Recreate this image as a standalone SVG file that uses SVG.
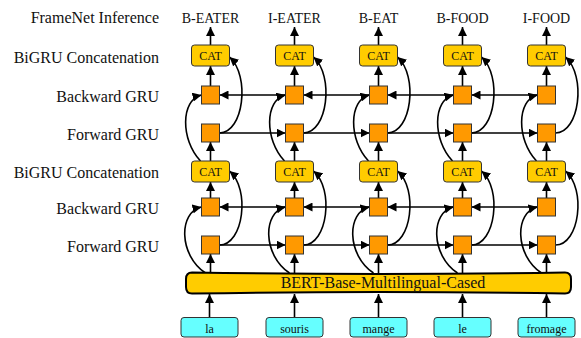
<svg xmlns="http://www.w3.org/2000/svg" width="581" height="338" viewBox="0 0 581 338">
<style>
text{font-family:"Liberation Serif","Times New Roman",serif;fill:#111}
.lbl{font-size:16px;text-anchor:end}
.out{font-size:14px;text-anchor:middle}
.cat rect{fill:#FFCC00;stroke:#333;stroke-width:1}
.cat text{font-family:"Liberation Serif","Times New Roman",serif;font-size:12px;text-anchor:middle}
.sq{fill:#FF9900;stroke:#333;stroke-width:1}
.tok rect{fill:#66FFFF;stroke:#333;stroke-width:1}
.tok text{font-family:"Liberation Serif","Times New Roman",serif;font-size:12px;text-anchor:middle}
#connectors path{fill:none;stroke:#000;stroke-width:1.6;marker-end:url(#ah)}
</style>
<defs>
<marker id="ah" viewBox="0 0 10 10" refX="10" refY="5" markerUnits="userSpaceOnUse" markerWidth="9" markerHeight="9" orient="auto">
<path d="M0,0 L10,5 L0,10 z" fill="#000"/>
</marker>
</defs>
<g id="row-labels">
<text class="lbl" x="159" y="22.5">FrameNet Inference</text>
<text class="lbl" x="159" y="62.5">BiGRU Concatenation</text>
<text class="lbl" x="159" y="101.5">Backward GRU</text>
<text class="lbl" x="159" y="139.5">Forward GRU</text>
<text class="lbl" x="159" y="178">BiGRU Concatenation</text>
<text class="lbl" x="159" y="214">Backward GRU</text>
<text class="lbl" x="159" y="252">Forward GRU</text>
</g>
<g id="connectors">
<path d="M210.5 45 V27"/><path d="M294.5 45 V27"/><path d="M378.5 45 V27"/><path d="M462.5 45 V27"/><path d="M546.5 45 V27"/>
<path d="M210.5 86 V66"/><path d="M294.5 86 V66"/><path d="M378.5 86 V66"/><path d="M462.5 86 V66"/><path d="M546.5 86 V66"/>
<path d="M210.5 161 V142"/><path d="M294.5 161 V142"/><path d="M378.5 161 V142"/><path d="M462.5 161 V142"/><path d="M546.5 161 V142"/>
<path d="M210.5 198 V182"/><path d="M294.5 198 V182"/><path d="M378.5 198 V182"/><path d="M462.5 198 V182"/><path d="M546.5 198 V182"/>
<path d="M210.5 273 V254"/><path d="M294.5 273 V254"/><path d="M378.5 273 V254"/><path d="M462.5 273 V254"/><path d="M546.5 273 V254"/>
<path d="M209.5 317 V294"/><path d="M294.5 317 V294"/><path d="M378.5 317 V294"/><path d="M462.5 317 V294"/><path d="M546.5 317 V294"/>
<path d="M285.5 95 H219.5"/><path d="M369.5 95 H303.5"/><path d="M453.5 95 H387.5"/><path d="M537.5 95 H471.5"/>
<path d="M219.5 133 H285.5"/><path d="M303.5 133 H369.5"/><path d="M387.5 133 H453.5"/><path d="M471.5 133 H537.5"/>
<path d="M285.5 207 H219.5"/><path d="M369.5 207 H303.5"/><path d="M453.5 207 H387.5"/><path d="M537.5 207 H471.5"/>
<path d="M219.5 245 H285.5"/><path d="M303.5 245 H369.5"/><path d="M387.5 245 H453.5"/><path d="M471.5 245 H537.5"/>
<path d="M200.5 161 C180.5 140 180.5 100 201.5 95"/>
<path d="M284.5 161 C264.5 140 264.5 100 285.5 95"/>
<path d="M368.5 161 C348.5 140 348.5 100 369.5 95"/>
<path d="M452.5 161 C432.5 140 432.5 100 453.5 95"/>
<path d="M536.5 161 C516.5 140 516.5 100 537.5 95"/>
<path d="M205.5 273 C178.5 255 178.5 212 201.5 207"/>
<path d="M289.5 273 C262.5 255 262.5 212 285.5 207"/>
<path d="M373.5 273 C346.5 255 346.5 212 369.5 207"/>
<path d="M457.5 273 C430.5 255 430.5 212 453.5 207"/>
<path d="M541.5 273 C514.5 255 514.5 212 537.5 207"/>
<path d="M219.5 133 C243.5 133 250.5 76 229.5 57"/>
<path d="M303.5 133 C327.5 133 334.5 76 313.5 57"/>
<path d="M387.5 133 C411.5 133 418.5 76 397.5 57"/>
<path d="M471.5 133 C495.5 133 502.5 76 481.5 57"/>
<path d="M555.5 133 C579.5 133 586.5 76 565.5 57"/>
<path d="M219.5 245 C243.5 245 250.5 189 229.5 171"/>
<path d="M303.5 245 C327.5 245 334.5 189 313.5 171"/>
<path d="M387.5 245 C411.5 245 418.5 189 397.5 171"/>
<path d="M471.5 245 C495.5 245 502.5 189 481.5 171"/>
<path d="M555.5 245 C579.5 245 586.5 189 565.5 171"/>
</g>
<g id="out-1"><text class="out" x="210.5" y="23">B-EATER</text></g>
<g id="out-2"><text class="out" x="294.5" y="23">I-EATER</text></g>
<g id="out-3"><text class="out" x="378.5" y="23">B-EAT</text></g>
<g id="out-4"><text class="out" x="462.5" y="23">B-FOOD</text></g>
<g id="out-5"><text class="out" x="546.5" y="23">I-FOOD</text></g>
<g id="cat2-1" class="cat"><rect x="191.5" y="45" width="38" height="21" rx="3"/><text x="210.5" y="60">CAT</text></g>
<g id="cat2-2" class="cat"><rect x="275.5" y="45" width="38" height="21" rx="3"/><text x="294.5" y="60">CAT</text></g>
<g id="cat2-3" class="cat"><rect x="359.5" y="45" width="38" height="21" rx="3"/><text x="378.5" y="60">CAT</text></g>
<g id="cat2-4" class="cat"><rect x="443.5" y="45" width="38" height="21" rx="3"/><text x="462.5" y="60">CAT</text></g>
<g id="cat2-5" class="cat"><rect x="527.5" y="45" width="38" height="21" rx="3"/><text x="546.5" y="60">CAT</text></g>
<g id="bwd2-1"><rect class="sq" x="201.5" y="86" width="18" height="18"/></g>
<g id="bwd2-2"><rect class="sq" x="285.5" y="86" width="18" height="18"/></g>
<g id="bwd2-3"><rect class="sq" x="369.5" y="86" width="18" height="18"/></g>
<g id="bwd2-4"><rect class="sq" x="453.5" y="86" width="18" height="18"/></g>
<g id="bwd2-5"><rect class="sq" x="537.5" y="86" width="18" height="18"/></g>
<g id="fwd2-1"><rect class="sq" x="201.5" y="124" width="18" height="18"/></g>
<g id="fwd2-2"><rect class="sq" x="285.5" y="124" width="18" height="18"/></g>
<g id="fwd2-3"><rect class="sq" x="369.5" y="124" width="18" height="18"/></g>
<g id="fwd2-4"><rect class="sq" x="453.5" y="124" width="18" height="18"/></g>
<g id="fwd2-5"><rect class="sq" x="537.5" y="124" width="18" height="18"/></g>
<g id="cat1-1" class="cat"><rect x="191.5" y="161" width="38" height="21" rx="3"/><text x="210.5" y="176">CAT</text></g>
<g id="cat1-2" class="cat"><rect x="275.5" y="161" width="38" height="21" rx="3"/><text x="294.5" y="176">CAT</text></g>
<g id="cat1-3" class="cat"><rect x="359.5" y="161" width="38" height="21" rx="3"/><text x="378.5" y="176">CAT</text></g>
<g id="cat1-4" class="cat"><rect x="443.5" y="161" width="38" height="21" rx="3"/><text x="462.5" y="176">CAT</text></g>
<g id="cat1-5" class="cat"><rect x="527.5" y="161" width="38" height="21" rx="3"/><text x="546.5" y="176">CAT</text></g>
<g id="bwd1-1"><rect class="sq" x="201.5" y="198" width="18" height="18"/></g>
<g id="bwd1-2"><rect class="sq" x="285.5" y="198" width="18" height="18"/></g>
<g id="bwd1-3"><rect class="sq" x="369.5" y="198" width="18" height="18"/></g>
<g id="bwd1-4"><rect class="sq" x="453.5" y="198" width="18" height="18"/></g>
<g id="bwd1-5"><rect class="sq" x="537.5" y="198" width="18" height="18"/></g>
<g id="fwd1-1"><rect class="sq" x="201.5" y="236" width="18" height="18"/></g>
<g id="fwd1-2"><rect class="sq" x="285.5" y="236" width="18" height="18"/></g>
<g id="fwd1-3"><rect class="sq" x="369.5" y="236" width="18" height="18"/></g>
<g id="fwd1-4"><rect class="sq" x="453.5" y="236" width="18" height="18"/></g>
<g id="fwd1-5"><rect class="sq" x="537.5" y="236" width="18" height="18"/></g>
<g id="bert">
<path d="M192 272.5 Q380 275.5 565 272.5 Q571 272.5 571 279 L571 287 Q571 293.5 565 293.5 Q380 290.5 192 293.5 Q186 293.5 186 287 L186 279 Q186 272.5 192 272.5 Z" fill="#FFCC00" stroke="#000" stroke-width="2"/>
<text x="383" y="288" font-size="16" text-anchor="middle">BERT-Base-Multilingual-Cased</text>
</g>
<g id="tok-1" class="tok"><rect x="181" y="317.5" width="57" height="19.5" rx="3"/><text x="209.5" y="332.5">la</text></g>
<g id="tok-2" class="tok"><rect x="266" y="317.5" width="57" height="19.5" rx="3"/><text x="294.5" y="332.5">souris</text></g>
<g id="tok-3" class="tok"><rect x="350" y="317.5" width="57" height="19.5" rx="3"/><text x="378.5" y="332.5">mange</text></g>
<g id="tok-4" class="tok"><rect x="434" y="317.5" width="57" height="19.5" rx="3"/><text x="462.5" y="332.5">le</text></g>
<g id="tok-5" class="tok"><rect x="518" y="317.5" width="57" height="19.5" rx="3"/><text x="546.5" y="332.5">fromage</text></g>
</svg>
